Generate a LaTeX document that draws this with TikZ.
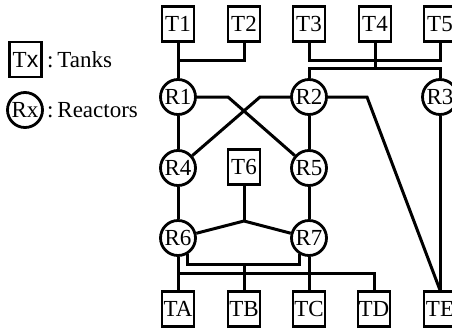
\documentclass[tikz,border=0pt]{standalone}
\usepackage{fontspec}
\setmainfont{Liberation Serif}
\newfontfamily\sansx{Liberation Sans}
\begin{document}
\begin{tikzpicture}[x=1pt,y=-1pt,
  every node/.style={font=\fontsize{23}{23}\selectfont},
  tank/.style={draw,line width=2.8pt,minimum width=32pt,minimum height=35pt,inner sep=0pt},
  reac/.style={draw,circle,line width=2.8pt,minimum size=35pt,inner sep=0pt},
  pipe/.style={line width=3pt}]
\useasboundingbox (0,0) rectangle (452,330);
% legend
\node[tank] (LT) at (25.5,59.5) {T{\sansx x}};
\node[reac] (LR) at (25,110) {Rx};
\node[anchor=west,inner sep=0pt] (LTt) at (47,60) {:\,Tanks};
\node[anchor=west,inner sep=0pt] (LRt) at (47,110) {:\,Reactors};
% tanks top
\node[tank] (T1) at (178,24) {T1};
\node[tank] (T2) at (244,24) {T2};
\node[tank] (T3) at (309,24) {T3};
\node[tank] (T4) at (375,24) {T4};
\node[tank] (T5) at (440,24) {T5};
% reactors
\node[reac] (R1) at (178,97) {R1};
\node[reac] (R2) at (309,97) {R2};
\node[reac] (R3) at (440,97) {R3};
\node[reac] (R4) at (178,168) {R4};
\node[tank] (T6) at (244,167) {T6};
\node[reac] (R5) at (309,168) {R5};
\node[reac] (R6) at (178,238) {R6};
\node[reac] (R7) at (309,238) {R7};
% tanks bottom
\node[tank] (TA) at (178,309) {TA};
\node[tank] (TB) at (244,309) {TB};
\node[tank] (TC) at (309,309) {TC};
\node[tank] (TD) at (374,309) {TD};
\node[tank] (TE) at (440,309) {TE};
% coordinates
\coordinate (b1) at (244,60);
\coordinate (b3) at (440,60);
\coordinate (b4) at (375,68);
\coordinate (k1) at (228,97);
\coordinate (k2) at (260,97);
\coordinate (k3) at (367,97);
\coordinate (j) at (244,221);
\coordinate (bb) at (244,264);
\coordinate (bd) at (178,273);
% pipes
\draw[pipe] (T1.south) |- (b1) -- (T2.south);
\draw[pipe] (T1.south) -- (R1.north);
\draw[pipe] (T3.south) |- (b3) -- (T5.south);
\draw[pipe] (T4.south) -- (b4);
\draw[pipe] (R2.north) |- (b4) -| (R3.north);
\draw[pipe] (R1) -- (R4);
\draw[pipe] (R4) -- (R6);
\draw[pipe] (R6) -- (TA);
\draw[pipe] (R2) -- (R5);
\draw[pipe] (R5) -- (R7);
\draw[pipe] (R7) -- (TC);
\draw[pipe] (R3.south) -- (TE.north);
\draw[pipe] (R1) -- (k1) -- (R5);
\draw[pipe] (R4) -- (k2) -- (R2);
\draw[pipe] (R2) -- (k3) -- (TE.north);
\draw[pipe] (T6) -- (j);
\draw[pipe] (R6) -- (j) -- (R7);
\draw[pipe] (R6.-60) |- (bb) -| (R7.-120);
\draw[pipe] (bb) -- (TB.north);
\draw[pipe] (bd) -| (TD.north);
\end{tikzpicture}
\end{document}
